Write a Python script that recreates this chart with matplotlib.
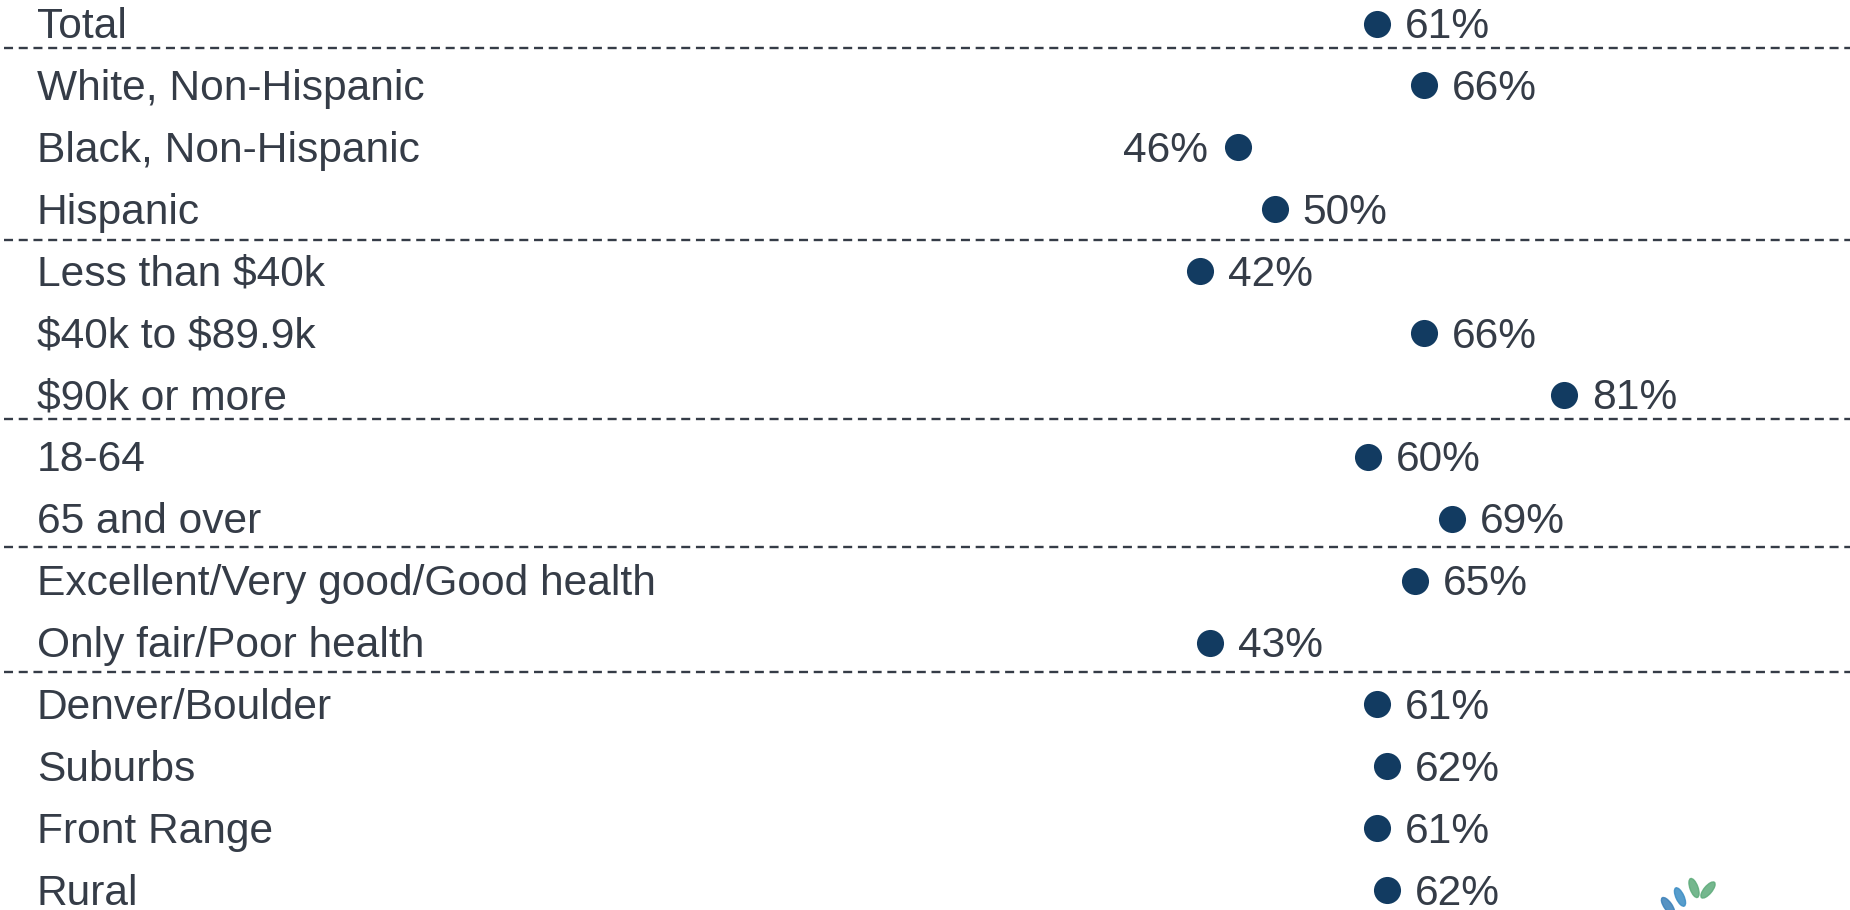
import matplotlib
matplotlib.use("Agg")
import matplotlib.pyplot as plt
from matplotlib.patches import Ellipse

categories = ["Total", "White, Non-Hispanic", "Black, Non-Hispanic", "Hispanic",
              "Less than \\$40k", "\\$40k to \\$89.9k", "\\$90k or more",
              "18-64", "65 and over",
              "Excellent/Very good/Good health", "Only fair/Poor health",
              "Denver/Boulder", "Suburbs", "Front Range", "Rural"]
values = [61, 66, 46, 50, 42, 66, 81, 60, 69, 65, 43, 61, 62, 61, 62]
label_left = ["Black, Non-Hispanic"]
separators = [0.40, 3.49, 6.39, 8.45, 10.48]

plt.rcParams['lines.scale_dashes'] = False
TEXT = "#353c47"
DOT = "#123b61"
FONT = ["Liberation Sans", "DejaVu Sans"]

fig = plt.figure(figsize=(18.5, 9.1), dpi=100)
ax = fig.add_axes([0, 0, 1, 1])
ax.set_xlim(-86.8, 111.7)
ax.set_ylim(14.32, -0.381)
ax.axis("off")

ys = list(range(len(categories)))
ax.plot(values, ys, linestyle="none", marker="o", markersize=19.5,
        color=DOT, markeredgewidth=0, zorder=3)

ytr = ax.get_yaxis_transform()
for y, cat, v in zip(ys, categories, values):
    ax.annotate(cat, (0.0198, y), xycoords=ytr, xytext=(0, -2.5),
                textcoords="offset points", ha="left", va="center",
                fontsize=30.6, color=TEXT, family=FONT)
    if cat in label_left:
        ax.annotate(f"{v}%", (v, y), xytext=(-21.5, -2.5), textcoords="offset points",
                    ha="right", va="center", fontsize=30.6, color=TEXT, family=FONT)
    else:
        ax.annotate(f"{v}%", (v, y), xytext=(20, -2.5), textcoords="offset points",
                    ha="left", va="center", fontsize=30.6, color=TEXT, family=FONT)

for s in separators:
    ax.plot([0.002, 1.0], [s, s], transform=ytr, color=TEXT, linewidth=1.7,
            dashes=(6.5, 4.1), zorder=1)

# small logo leaves in the bottom-right corner
leaves = [((1694, 888), 8, 20, 20, "#5dab7a"),
          ((1708, 890), 8, 20, -40, "#5dab7a"),
          ((1680, 897), 8, 20, 25, "#3a8cc4"),
          ((1668, 906), 8, 20, 35, "#3a7fb8")]
for (cx, cy), w, h, ang, col in leaves:
    e = Ellipse((cx, 910 - cy), w, h, angle=ang, transform=None, color=col, alpha=0.85)
    fig.patches.append(e)

fig.savefig("out.png", dpi=100)
